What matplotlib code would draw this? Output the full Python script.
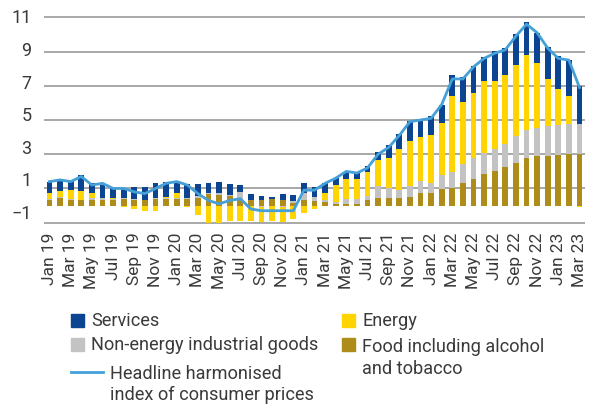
import numpy as np
import matplotlib
matplotlib.use('Agg')
import matplotlib.pyplot as plt
import matplotlib.transforms as mtransforms
from matplotlib.patches import Rectangle
from matplotlib.lines import Line2D

plt.rcParams['font.family'] = ['Roboto', 'DejaVu Sans']

# Monate Jan 19 .. Mar 23
mon = ['Jan', 'Feb', 'Mar', 'Apr', 'May', 'Jun', 'Jul', 'Aug', 'Sep', 'Oct', 'Nov', 'Dec']
months = [f"{mon[i % 12]} {19 + i // 12}" for i in range(51)]

# Beiträge (Prozentpunkte)
services = [0.66, 0.70, 0.60, 0.95, 0.58, 0.72, 0.53, 0.58, 0.74, 0.74, 0.84, 0.92,
            0.66, 0.82, 0.68, 0.55, 0.66, 0.64, 0.45, 0.35, 0.25, 0.14, 0.35, 0.35,
            0.58, 0.58, 0.60, 0.42, 0.45, 0.35, 0.36, 0.46, 0.76, 0.90, 1.16, 1.02,
            1.09, 1.05, 1.23, 1.46, 1.56, 1.42, 1.72, 1.62, 1.81, 1.91, 1.75, 1.85,
            1.89, 2.10, 2.18]
energy = [0.35, 0.37, 0.49, 0.50, 0.31, 0.04, 0.10, -0.08, -0.20, -0.31, -0.31, 0.02,
          0.29, -0.06, -0.53, -1.00, -1.00, -0.90, -0.88, -0.85, -0.90, -0.90, -0.90, -0.80,
          -0.43, -0.20, 0.41, 1.00, 1.17, 1.17, 1.40, 1.54, 1.75, 2.40, 2.63, 2.57,
          2.80, 3.08, 4.39, 3.65, 3.82, 4.21, 3.98, 4.00, 4.19, 4.39, 3.80, 2.77,
          2.14, 1.64, -0.10]
neig = [0.04, 0.05, 0.10, 0.03, 0.10, 0.10, 0.05, 0.05, 0.03, 0.03, 0.10, 0.06,
        0.05, 0.05, 0.16, 0.06, 0.12, 0.05, 0.39, -0.03, -0.06, -0.03, -0.06, 0.10,
        0.42, 0.20, 0.12, 0.08, 0.27, 0.31, 0.21, 0.70, 0.58, 0.47, 0.62, 0.72,
        0.58, 0.82, 0.96, 1.07, 1.21, 1.23, 1.29, 1.33, 1.54, 1.64, 1.68, 1.72,
        1.72, 1.75, 1.75]
food = [0.35, 0.45, 0.30, 0.32, 0.32, 0.33, 0.32, 0.39, 0.33, 0.31, 0.37, 0.40,
        0.41, 0.41, 0.42, 0.70, 0.60, 0.58, 0.39, 0.31, 0.32, 0.38, 0.32, 0.15,
        0.30, 0.29, 0.20, 0.12, 0.10, 0.10, 0.34, 0.43, 0.43, 0.44, 0.52, 0.72,
        0.74, 0.94, 1.03, 1.33, 1.56, 1.85, 2.03, 2.28, 2.50, 2.79, 2.87, 2.92,
        2.98, 3.04, 3.04]
headline = [1.4, 1.5, 1.4, 1.7, 1.2, 1.3, 1.0, 1.0, 0.8, 0.7, 1.0, 1.3,
            1.4, 1.2, 0.7, 0.3, 0.1, 0.3, 0.4, -0.2, -0.3, -0.3, -0.3, -0.3,
            0.9, 0.9, 1.3, 1.6, 2.0, 1.9, 2.2, 3.0, 3.4, 4.1, 4.9, 5.0,
            5.1, 5.9, 7.4, 7.4, 8.1, 8.6, 8.9, 9.1, 9.9, 10.6, 10.1, 9.2,
            8.6, 8.5, 6.9]

c_serv = '#0b4592'
c_energy = '#ffd400'
c_neig = '#c3c3c4'
c_food = '#ad8c1a'
c_line = '#45a0d8'
c_text = '#3a3a3a'

fig = plt.figure(figsize=(5.96, 4.05), dpi=100)
W, H = 596, 405
ax = fig.add_axes([44 / W, 1 - 224.4 / H, (585 - 44) / W, (224.4 - 15.6) / H])

x = np.arange(len(months))
pos = np.zeros(len(x))
neg = np.zeros(len(x))
for vals, col in [(food, c_food), (neig, c_neig), (energy, c_energy), (services, c_serv)]:
    v = np.array(vals)
    bottom = np.where(v >= 0, pos, neg)
    ax.bar(x, v, bottom=bottom, width=0.54, color=col, linewidth=0, zorder=2)
    pos = pos + np.where(v >= 0, v, 0)
    neg = neg + np.where(v < 0, v, 0)

ax.plot(x, headline, color=c_line, lw=2.0, zorder=3, solid_joinstyle='round')

ax.set_xlim(-0.52, 50.52)
ax.set_ylim(-1.1, 11.1)
yt = [-1, 1, 3, 5, 7, 9, 11]
ax.set_yticks(yt)
ax.set_xticks(x[::2])
ax.set_xticklabels(months[::2], rotation=90, fontsize=12.5, color=c_text)
ax.tick_params(axis='y', length=0, pad=9, labelsize=13, labelcolor=c_text)
ax.tick_params(axis='x', length=0, pad=6)
for lab, v in zip(ax.get_yticklabels(), yt):
    off = (0.6 + (11 - v) * 0.6) / 72
    lab.set_transform(lab.get_transform() + mtransforms.ScaledTranslation(0, off, fig.dpi_scale_trans))
ax.grid(axis='y', color='#9a9a9a', lw=1.2)
ax.set_axisbelow(True)
for s in ax.spines.values():
    s.set_visible(False)

# Legende
def fy(py):
    return 1 - py / H

def square(px, py, col):
    fig.add_artist(Rectangle((px / W, fy(py + 6.5)), 13 / W, 13 / H, color=col,
                             transform=fig.transFigure))

square(71, 320, c_serv)
square(71, 344, c_neig)
square(342, 320, c_energy)
square(342, 344, c_food)
fig.add_artist(Line2D([71 / W, 103 / W], [fy(372), fy(372)], color=c_line, lw=2.0,
                      transform=fig.transFigure))
fs = 13.1
b = 6.5  # Grundlinie unter der Zeilenmitte
# bei mehrzeiligem Text gilt 'baseline' fuer die letzte Zeile
fig.text(91 / W, fy(320 + b), 'Services', fontsize=fs, color=c_text, va='baseline')
fig.text(91 / W, fy(344 + b), 'Non-energy industrial goods', fontsize=fs, color=c_text, va='baseline')
fig.text(110 / W, fy(394 + b), 'Headline harmonised\nindex of consumer prices', fontsize=fs,
         color=c_text, va='baseline', linespacing=1.25)
fig.text(362 / W, fy(320 + b), 'Energy', fontsize=fs, color=c_text, va='baseline')
fig.text(362 / W, fy(367 + b), 'Food including alcohol\nand tobacco', fontsize=fs,
         color=c_text, va='baseline', linespacing=1.25)

fig.savefig('out.png', dpi=100)
